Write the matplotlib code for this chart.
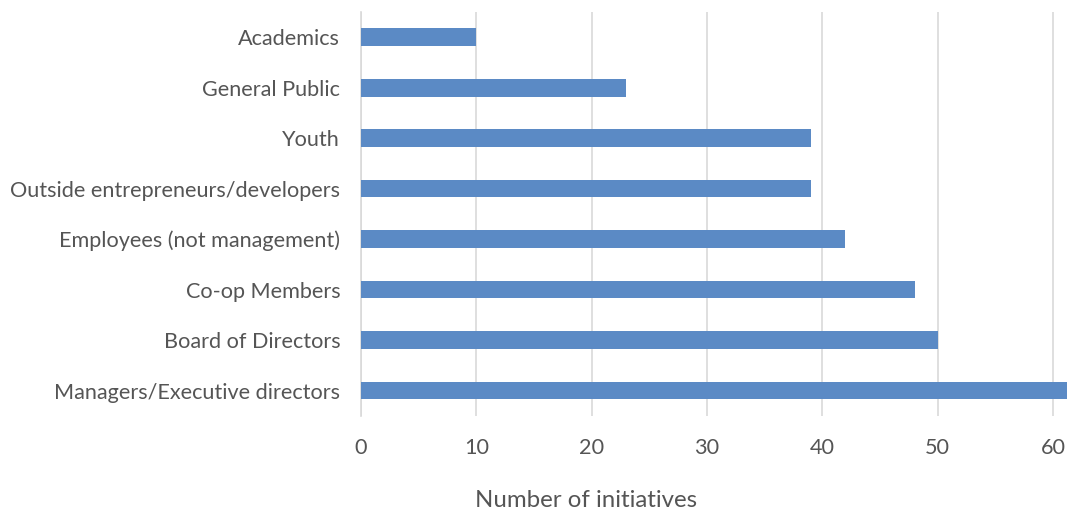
import matplotlib
matplotlib.use("Agg")
import matplotlib.pyplot as plt

categories = [
    "Managers/Executive directors",
    "Board of Directors",
    "Co-op Members",
    "Employees (not management)",
    "Outside entrepreneurs/developers",
    "Youth",
    "General Public",
    "Academics",
]
values = [62, 50, 48, 42, 39, 39, 23, 10]
xticks = [0, 10, 20, 30, 40, 50, 60]

plt.rcParams["font.family"] = ["Lato", "DejaVu Sans"]
text_color = "#555555"
bar_color = "#5B8AC5"
grid_color = "#D9D9D9"

fig = plt.figure(figsize=(10.67, 5.14), dpi=100)
ax = fig.add_axes([0.3383, 0.191, 0.6617, 0.7857])

ax.barh(range(len(categories)), values, height=0.35, color=bar_color, zorder=3)

ax.set_xlim(0, 61.2)
ax.set_ylim(-0.5, len(categories) - 0.5)
ax.set_yticks(range(len(categories)))
ax.set_yticklabels(categories)
ax.set_xticks(xticks)
ax.set_xticklabels([str(t) for t in xticks])

ax.grid(axis="x", color=grid_color, linewidth=1.2, zorder=0)
for side in ["top", "right", "bottom"]:
    ax.spines[side].set_visible(False)
ax.spines["left"].set_color(grid_color)
ax.spines["left"].set_linewidth(1.2)

ax.tick_params(axis="both", length=0, colors=text_color, labelsize=15.6)
ax.tick_params(axis="y", pad=15)
ax.tick_params(axis="x", pad=16)

ax.set_xlabel("Number of initiatives", fontsize=17.3, color=text_color)
ax.xaxis.set_label_coords(0.3187, -0.184)

fig.savefig("out.png", dpi=100)
